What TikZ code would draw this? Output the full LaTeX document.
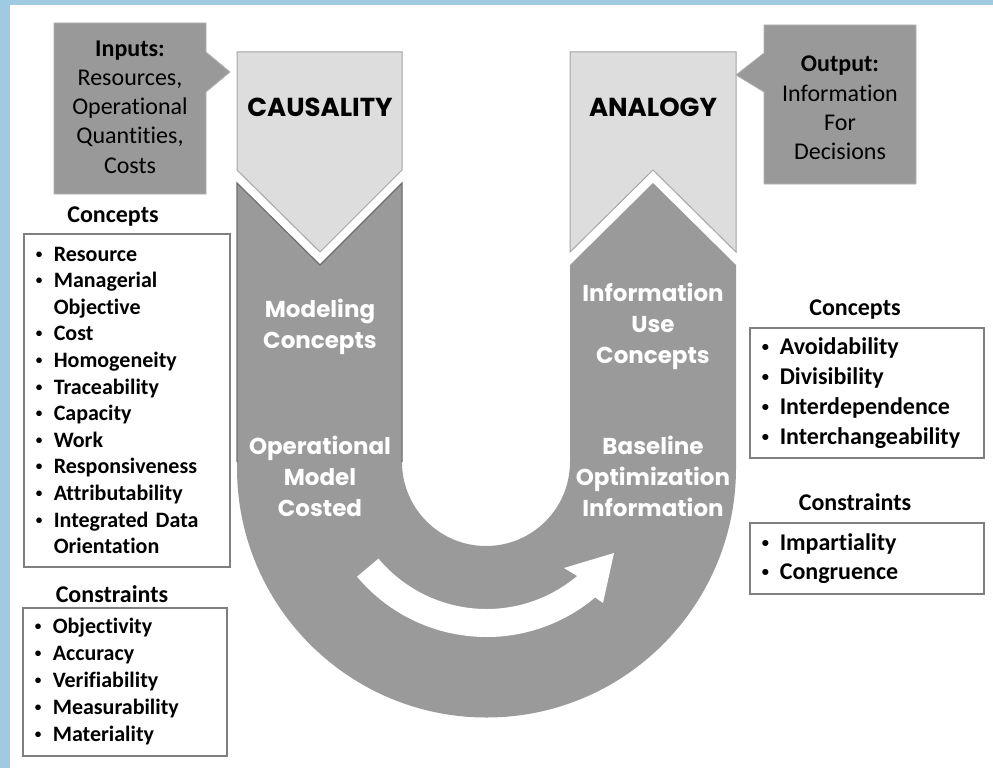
\documentclass[tikz,border=0pt]{standalone}
\usepackage{fontspec}
\setmainfont{Carlito}[Ligatures=NoCommon]
\newfontfamily\geofont{Poppins}
\usetikzlibrary{calc}

\definecolor{ugray}{HTML}{9A9A9A}
\definecolor{armline}{HTML}{6E6E6E}
\definecolor{bannerfill}{HTML}{DDDDDD}
\definecolor{bannerline}{HTML}{A5A5A5}
\definecolor{boxfill}{HTML}{999999}
\definecolor{boxline}{HTML}{B3B3B3}
\definecolor{listline}{HTML}{7F7F7F}
\definecolor{frameblue}{HTML}{A0C9E3}

% dòng có dấu chấm đầu dòng, và dòng tiếp theo thụt vào
\newcommand{\smallbullet}{\raisebox{0.13em}{\scalebox{0.6}{\textbullet}}}
\newcommand{\itm}[1]{\makebox[19pt][l]{\hspace{1pt}\smallbullet}\mbox{#1}}
\newcommand{\cnt}[1]{\hspace*{19pt}\mbox{#1}}

\begin{document}
\begin{tikzpicture}[x=1pt, y=-1pt,
    head/.style={font=\fontsize{24}{29}\selectfont\bfseries, inner sep=0pt, anchor=base},
    listbox/.style={draw=listline, line width=1.6pt, fill=white, anchor=north west,
        inner xsep=11pt, inner ysep=0pt, align=left},
    callout/.style={fill=boxfill, draw=boxline, line width=0.8pt},
    calltext/.style={align=center, inner sep=0pt, font=\fontsize{24}{29.3}\selectfont},
    banner/.style={fill=bannerfill, draw=bannerline, line width=1pt},
    bigword/.style={font=\geofont\bfseries\fontsize{26}{30}\selectfont, inner sep=0pt},
    armtext/.style={text=white, font=\geofont\bfseries\fontsize{23}{31}\selectfont,
        align=center, inner sep=0pt}]

    % --- Nền trắng và viền xanh ---
    \useasboundingbox (0,0) rectangle (993,768);
    \fill[white] (0,0) rectangle (993,768);
    \fill[frameblue] (0,0) rectangle (10,768);
    \fill[frameblue] (0,0) rectangle (993,5);

    % --- Hình chữ U ---
    \fill[ugray] (237,183) -- (320,265) -- (402,183) -- (402,462)
        arc[start angle=180, end angle=0, radius=84]
        -- (570,265) -- (653,183) -- (736,265) -- (736,468)
        arc[start angle=0, end angle=180, radius=249.5] -- cycle;
    % nhánh trái có viền đậm
    \draw[armline, line width=1.2pt] (237,462) -- (237,183) -- (320,265) -- (402,183) -- (402,462);

    % --- Hai băng rôn ---
    \draw[banner] (237,52) -- (402,52) -- (402,170) -- (320,252) -- (237,170) -- cycle;
    \draw[banner] (570,52) -- (736,52) -- (736,252) -- (653,170) -- (570,252) -- cycle;
    \node[bigword] (causality) at (320,107) {CAUSALITY};
    \node[bigword] (analogy) at (653,107) {ANALOGY};

    % --- Chữ trắng trên hai nhánh ---
    \node[armtext] (modeling) at (320,327) {Modeling\\Concepts};
    \node[armtext] (costed) at (320,476) {Operational\\Model\\Costed};
    \node[armtext] (infouse) at (653,326) {Information\\Use\\Concepts};
    \node[armtext] (baseline) at (653,476) {Baseline\\Optimization\\Information};

    % --- Mũi tên trắng cong ---
    \coordinate (ctr) at (486.5,468);
    \fill[white] ($(ctr)+(140:141)$) arc[start angle=140, end angle=50, radius=141]
        -- (564,568) -- (614,553) -- (603,603)
        -- ($(ctr)+(50:169)$) arc[start angle=50, end angle=140, radius=169] -- cycle;

    % --- Hộp đầu vào / đầu ra ---
    \draw[callout] (54,23) -- (206,23) -- (206,52) -- (230,72) -- (206,92)
        -- (206,194) -- (54,194) -- cycle;
    \node[calltext] (inputs) at (130,107)
        {\textbf{Inputs:}\\Resources,\\Operational\\Quantities,\\Costs};
    \draw[callout] (764,25) -- (916,25) -- (916,184) -- (764,184) -- (764,92)
        -- (736,75) -- (764,53) -- cycle;
    \node[calltext] (output) at (840,108)
        {\textbf{Output:}\\Information\\For\\Decisions};

    % --- Danh sách bên trái ---
    \node[head] (lconchead) at (113,222) {Concepts};
    \node[listbox, text width=184pt, minimum height=333pt,
        font=\fontsize{22}{26.6}\selectfont\bfseries] (lconc) at (23,233)
        {\itm{Resource}\\\itm{Managerial}\\\cnt{Objective}\\\itm{Cost}\\
         \itm{Homogeneity}\\\itm{Traceability}\\\itm{Capacity}\\\itm{Work}\\
         \itm{Responsiveness}\\\itm{Attributability}\\\itm{Integrated Data}\\
         \cnt{Orientation}};

    \node[head] (lconshead) at (112,602) {Constraints};
    \node[listbox, text width=182pt, minimum height=148pt,
        font=\fontsize{22}{27}\selectfont\bfseries] (lcons) at (22,607)
        {\itm{Objectivity}\\\itm{Accuracy}\\\itm{Verifiability}\\
         \itm{Measurability}\\\itm{Materiality}};

    % --- Danh sách bên phải ---
    \node[head] (rconchead) at (855,315) {Concepts};
    \node[listbox, text width=212pt, minimum height=130pt,
        font=\fontsize{24}{30}\selectfont\bfseries] (rconc) at (749,327)
        {\itm{Avoidability}\\\itm{Divisibility}\\\itm{Interdependence}\\
         \itm{Interchangeability}};

    \node[head] (rconshead) at (855,510) {Constraints};
    \node[listbox, text width=212pt, minimum height=71pt,
        font=\fontsize{24}{29}\selectfont\bfseries] (rcons) at (749,522)
        {\itm{Impartiality}\\\itm{Congruence}};
\end{tikzpicture}
\end{document}
